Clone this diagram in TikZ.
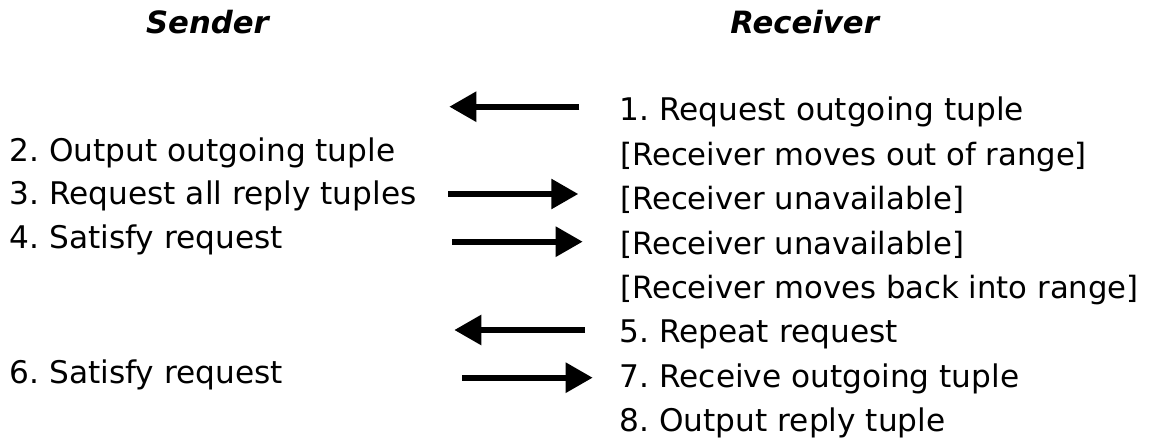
\documentclass[tikz,border=0pt]{standalone}
\usepackage{fontspec}
\setmainfont{DejaVu Sans}
\usetikzlibrary{arrows.meta}
\frenchspacing
\tikzset{
  body/.style={anchor=base west, inner sep=0pt, font=\fontsize{31.2}{36}\selectfont},
  event/.style={anchor=base west, inner sep=0pt, font=\fontsize{30.7}{36}\selectfont},
  head/.style={anchor=base, inner sep=0pt, font=\fontsize{30.7}{36}\selectfont\bfseries\itshape},
  msg/.style={line width=5.8pt, -{Triangle[length=27pt,width=29pt]}},
}
\begin{document}
\begin{tikzpicture}[x=1pt,y=-1pt]
\useasboundingbox (0,0) rectangle (1160,443);

% column headings
\node[head] (hs) at (207.5,33.3) {Sender};
\node[head] (hr) at (804.7,33.3) {Receiver};

% sender steps
\node[body] (s2) at (9.4,161.7) {2. Output outgoing tuple};
\node[body] (s3) at (9.4,205.0) {3. Request all reply tuples};
\node[body] (s4) at (9.4,248.3) {4. Satisfy request};
\node[body] (s6) at (9.4,383.3) {6. Satisfy request};

% receiver steps and events
\node[body]  (r1) at (619.5,121.0) {1. Request outgoing tuple};
\node[event] (r2) at (620,165.4) {[Receiver moves out of range]};
\node[event] (r3) at (620,209.8) {[Receiver unavailable]};
\node[event] (r4) at (620,254.2) {[Receiver unavailable]};
\node[event] (r5) at (620,298.6) {[Receiver moves back into range]};
\node[body]  (r6) at (619.5,343.0) {5. Repeat request};
\node[body]  (r7) at (619.5,387.4) {7. Receive outgoing tuple};
\node[body]  (r8) at (619.5,431.7) {8. Output reply tuple};

% message arrow end points
\coordinate (a1s) at (579.3,106.7); \coordinate (a1e) at (449.3,106.7);
\coordinate (a2s) at (448.3,194.0); \coordinate (a2e) at (578.3,194.0);
\coordinate (a3s) at (452.3,241.7); \coordinate (a3e) at (582.7,241.7);
\coordinate (a4s) at (585.0,330.0); \coordinate (a4e) at (454.3,330.0);
\coordinate (a5s) at (462.3,377.7); \coordinate (a5e) at (592.7,377.7);

% messages between the two parties
\draw[msg] (a1s) -- (a1e);
\draw[msg] (a2s) -- (a2e);
\draw[msg] (a3s) -- (a3e);
\draw[msg] (a4s) -- (a4e);
\draw[msg] (a5s) -- (a5e);
\end{tikzpicture}
\end{document}
